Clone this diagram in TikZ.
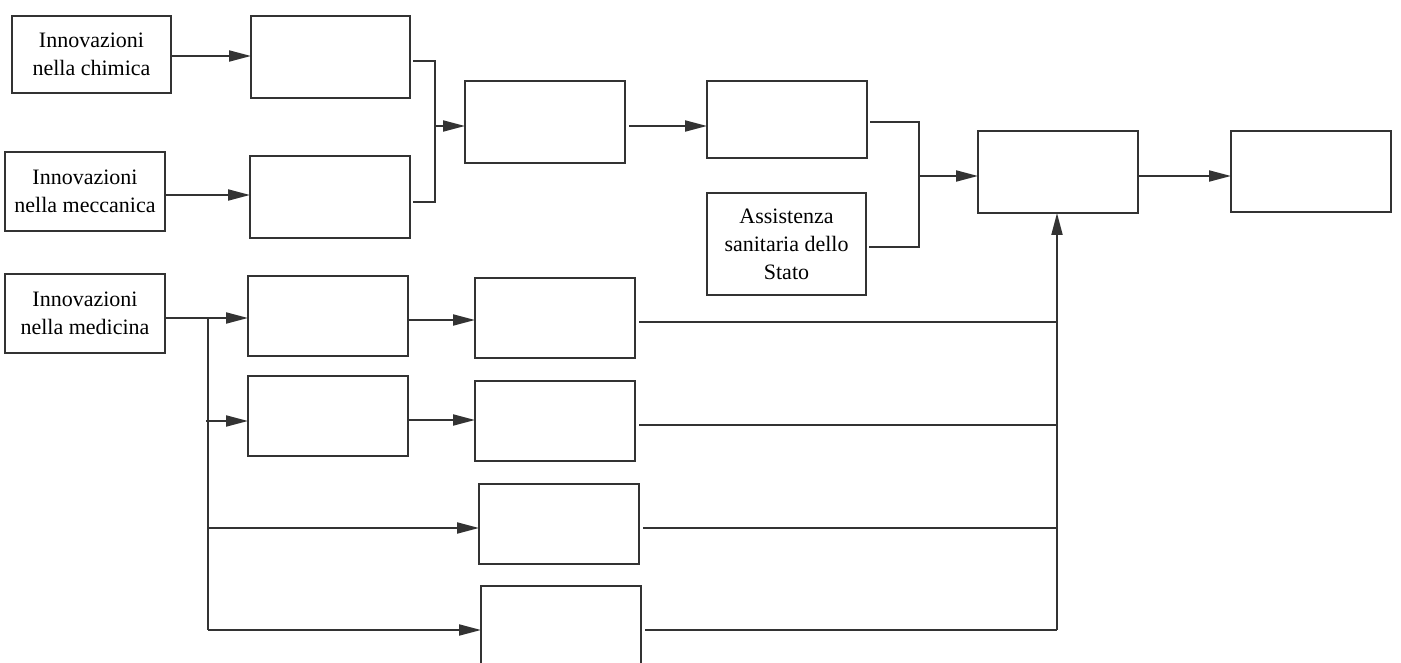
\documentclass[tikz,border=0pt]{standalone}
\usepackage{fontspec}
\setmainfont{Liberation Serif}
\usetikzlibrary{arrows.meta}
\definecolor{ln}{HTML}{333333}
\tikzset{
  bx/.style={draw=ln, line width=1.5pt, rectangle, inner sep=0pt, outer sep=0pt,
    align=center, font=\fontsize{22}{28}\selectfont, text=black},
  arr/.style={draw=ln, line width=2pt, -{Triangle[length=22pt,width=11pt]}},
  ln/.style={draw=ln, line width=2pt}
}
\begin{document}
\begin{tikzpicture}[x=1pt,y=-1pt]
\useasboundingbox (0,0) rectangle (1401,663);
\clip (0,0) rectangle (1401,663);
% left boxes
\node[bx, minimum width=159pt, minimum height=77pt] (A1) at (91.5,54.5) {Innovazioni\\nella chimica};
\node[bx, minimum width=160pt, minimum height=79pt] (A2) at (85,191.5) {Innovazioni\\nella meccanica};
\node[bx, minimum width=160pt, minimum height=79pt] (A3) at (85,313.5) {Innovazioni\\nella medicina};
% empty boxes
\node[bx, minimum width=159pt, minimum height=82pt] (B1) at (330.5,57) {};
\node[bx, minimum width=160pt, minimum height=82pt] (B2) at (330,197) {};
\node[bx, minimum width=160pt, minimum height=82pt] (C) at (545,122) {};
\node[bx, minimum width=160pt, minimum height=77pt] (D) at (787,119.5) {};
\node[bx, minimum width=159pt, minimum height=102pt] (E) at (786.5,244) {Assistenza\\sanitaria dello\\Stato};
\node[bx, minimum width=160pt, minimum height=82pt] (F) at (1058,172) {};
\node[bx, minimum width=160pt, minimum height=81pt] (G) at (1311,171.5) {};
\node[bx, minimum width=160pt, minimum height=80pt] (H1) at (328,316) {};
\node[bx, minimum width=160pt, minimum height=80pt] (I1) at (555,318) {};
\node[bx, minimum width=160pt, minimum height=80pt] (H2) at (328,416) {};
\node[bx, minimum width=160pt, minimum height=80pt] (I2) at (555,421) {};
\node[bx, minimum width=160pt, minimum height=80pt] (I3) at (559,524) {};
\node[bx, minimum width=160pt, minimum height=80pt] (I4) at (561,626) {};
% junction coordinates
\coordinate (jB) at (435,126);
\coordinate (jD) at (919,176);
\coordinate (tTop) at (208,318);
\coordinate (tBot) at (208,630);
\coordinate (rBot) at (1057,630);
% top arrows
\draw[arr] (A1.east |- 0,56) -- (B1.west |- 0,56);
\draw[arr] (A2.east |- 0,195) -- (B2.west |- 0,195);
\draw[ln] ([xshift=3pt]B1.east |- 0,61) -| (jB) |- ([xshift=3pt]B2.east |- 0,202);
\draw[arr] (jB) -- (C.west |- jB);
\draw[arr] ([xshift=4pt]C.east |- 0,126) -- (D.west |- 0,126);
\draw[ln] ([xshift=3pt]D.east |- 0,122) -| (jD) |- ([xshift=3pt]E.east |- 0,247);
\draw[arr] (jD) -- (F.west |- jD);
\draw[arr] (F.east |- 0,176) -- (G.west |- 0,176);
% medicine branch
\draw[arr] (A3.east |- tTop) -- (H1.west |- tTop);
\draw[ln] (tTop) -- (tBot);
\draw[arr] (206,421) -- (H2.west |- 0,421);
\draw[arr] (H1.east |- 0,320) -- (I1.west |- 0,320);
\draw[arr] (H2.east |- 0,420) -- (I2.west |- 0,420);
\draw[arr] (208,528) -- (I3.west |- 0,528);
\draw[arr] (tBot) -- (I4.west |- tBot);
% right collectors
\draw[ln] ([xshift=4pt]I1.east |- 0,322) -- (1057,322);
\draw[ln] ([xshift=4pt]I2.east |- 0,425) -- (1057,425);
\draw[ln] ([xshift=4pt]I3.east |- 0,528) -- (1057,528);
\draw[ln] ([xshift=4pt]I4.east |- rBot) -- (rBot);
\draw[arr] (rBot) -- (F.south -| rBot);
\end{tikzpicture}
\end{document}
